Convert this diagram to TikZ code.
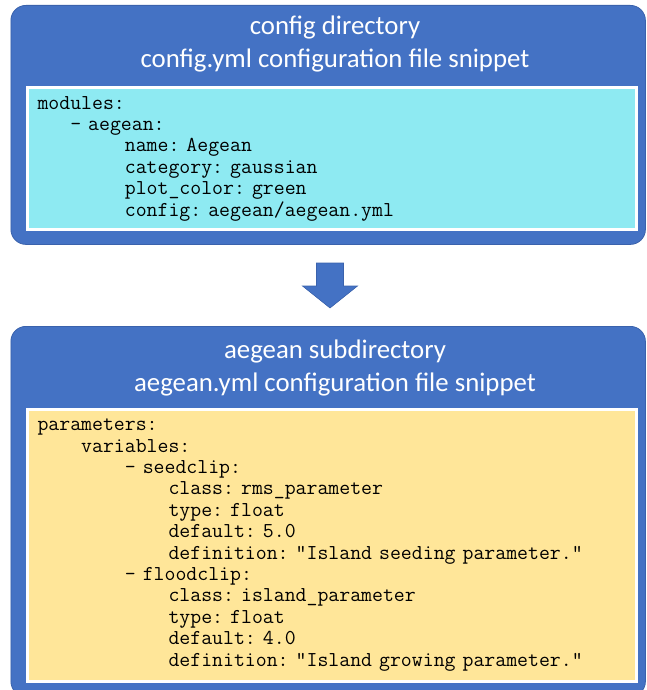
\documentclass[tikz,border=0pt]{standalone}
\usepackage{fontspec}
\setmainfont{Carlito}
\usetikzlibrary{positioning, calc}

\definecolor{boxblue}{HTML}{4472C4}
\definecolor{edgeblue}{HTML}{3A62AC}
\definecolor{cfgcyan}{HTML}{8EEAF2}
\definecolor{ymlgold}{HTML}{FFE699}

% indent by a number of mono characters
\newcommand{\codegap}[1]{\hspace*{#1\fontcharwd\font`\m}}
% mono font with fixed spaces
\newcommand{\codefont}{\fontsize{21.2}{21.4}\selectfont\ttfamily\frenchspacing
  \fontdimen2\font=\fontcharwd\font`\m \fontdimen3\font=0pt \fontdimen4\font=0pt }

\begin{document}
\begin{tikzpicture}[x=1pt, y=-1pt,
  dirbox/.style={draw=edgeblue, line width=0.8pt, fill=boxblue, rounded corners=15pt,
    minimum width=634.5pt, anchor=north west, inner sep=0pt},
  headtext/.style={text=white, font=\fontsize{26.8}{32.5}\selectfont, align=center},
  codebox/.style={draw=white, line width=3pt, anchor=north west, minimum width=609pt,
    text width=588pt, inner xsep=10.5pt, inner ysep=0pt, align=left, font=\codefont}]
  \path[use as bounding box] (0,0) rectangle (647,690);
  \clip (0,0) rectangle (647,690);

  % config directory
  \node[dirbox, minimum height=239pt] (cfgdir) at (10.5,5) {};
  \node[headtext] (cfgtitle) at (335,44) {config directory\\config.yml configuration file snippet};
  \node[codebox, fill=cfgcyan, minimum height=141pt] (cfgcode) at (25.5,86.5) {%
    modules:\\
    \codegap{3}- aegean:\\
    \codegap{8}name: Aegean\\
    \codegap{8}category: gaussian\\
    \codegap{8}plot\_color: green\\
    \codegap{8}config: aegean/aegean.yml};

  % block arrow
  \coordinate (arrowtop) at (330,263);
  \draw[fill=boxblue, draw=edgeblue, line width=0.6pt, line join=miter]
    ($(arrowtop)+(-13.5,0)$) -- ($(arrowtop)+(13.5,0)$) -- ($(arrowtop)+(13.5,23)$) -- ($(arrowtop)+(27.5,23)$)
    -- ($(arrowtop)+(0,45)$) -- ($(arrowtop)+(-27.5,23)$) -- ($(arrowtop)+(-13.5,23)$) -- cycle;

  % aegean subdirectory
  \node[dirbox, minimum height=370pt] (aegdir) at (10.5,326) {};
  \node[headtext] (aegtitle) at (335,368) {aegean subdirectory\\aegean.yml configuration file snippet};
  \node[codebox, fill=ymlgold, minimum height=272pt] (aegcode) at (25.5,407.5) {%
    parameters:\\
    \codegap{4}variables:\\
    \codegap{8}- seedclip:\\
    \codegap{12}class: rms\_parameter\\
    \codegap{12}type: float\\
    \codegap{12}default: 5.0\\
    \codegap{12}definition: "Island seeding parameter."\\
    \codegap{8}- floodclip:\\
    \codegap{12}class: island\_parameter\\
    \codegap{12}type: float\\
    \codegap{12}default: 4.0\\
    \codegap{12}definition: "Island growing parameter."};
\end{tikzpicture}
\end{document}
